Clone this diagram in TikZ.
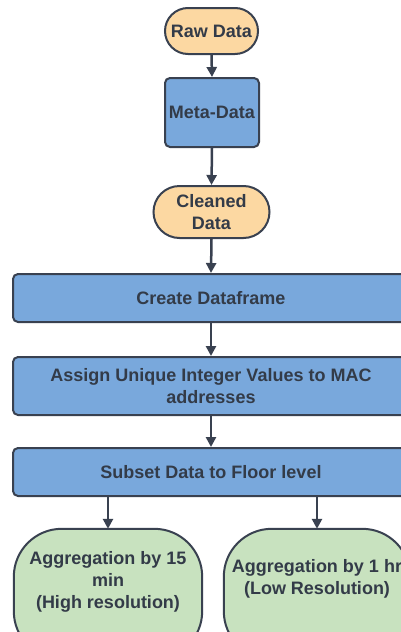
\documentclass[tikz,border=0pt]{standalone}
\usepackage{fontspec}
\setmainfont{Liberation Sans}
\usetikzlibrary{arrows.meta,backgrounds}
\definecolor{edgec}{HTML}{394150}
\definecolor{textc}{HTML}{333B48}
\definecolor{orangef}{HTML}{FCD8A2}
\definecolor{bluef}{HTML}{79A8DC}
\definecolor{greenf}{HTML}{C8E2BF}
\begin{document}
\begin{tikzpicture}[x=1pt,y=1pt,
  every node/.style={font=\bfseries\fontsize{18}{22}\selectfont, text=textc, align=center, inner sep=1pt},
  basebox/.style={draw=edgec, line width=2pt},
  termbox/.style={basebox, fill=orangef},
  procbox/.style={basebox, fill=bluef, rounded corners=5pt},
  arr/.style={draw=edgec, line width=2.5pt, -{Triangle[length=10pt,width=10pt]}}
]
\useasboundingbox (0,0) rectangle (400,-632);

\node[termbox, rounded corners=23pt, minimum width=93pt, minimum height=46pt] (raw) at (211.5,-31) {Raw Data};
\node[procbox, minimum width=94pt, minimum height=69pt] (meta) at (212,-112.5) {Meta-Data};
\node[termbox, rounded corners=26pt, minimum width=116pt, minimum height=52pt] (clean) at (211.5,-212) {Cleaned\\Data};
\node[procbox, minimum width=396pt, minimum height=48pt] (create) at (211,-298) {Create Dataframe};
\node[procbox, minimum width=396pt, minimum height=58pt] (assign) at (211,-386) {Assign Unique Integer Values to MAC\\addresses};
\node[procbox, minimum width=396pt, minimum height=48pt] (subset) at (211,-472) {Subset Data to Floor level};

\node[minimum width=188pt, minimum height=106pt] (agga) at (108,-582) {Aggregation by 15\\min\\(High resolution)};
\node[minimum width=186pt, minimum height=100pt] (aggb) at (317,-579) {Aggregation by 1 hr\\(Low Resolution)};
\begin{scope}[on background layer]
\fill[white] (0,0) rectangle (400,-632);
\draw[basebox, fill=greenf, rounded corners=48pt] (agga.north west) rectangle ([yshift=-24pt]agga.south east);
\draw[basebox, fill=greenf, rounded corners=48pt] (aggb.north west) rectangle ([yshift=-30pt]aggb.south east);
\end{scope}

\draw[arr] (raw.south) -- (meta.north);
\draw[arr] (meta.south) -- (clean.north);
\draw[arr] (clean.south) -- (create.north);
\draw[arr] (create.south) -- (assign.north);
\draw[arr] (assign.south) -- (subset.north);
\draw[arr] (subset.south -| agga.north) -- (agga.north);
\draw[arr] (subset.south -| aggb.north) -- (aggb.north);
\end{tikzpicture}
\end{document}
